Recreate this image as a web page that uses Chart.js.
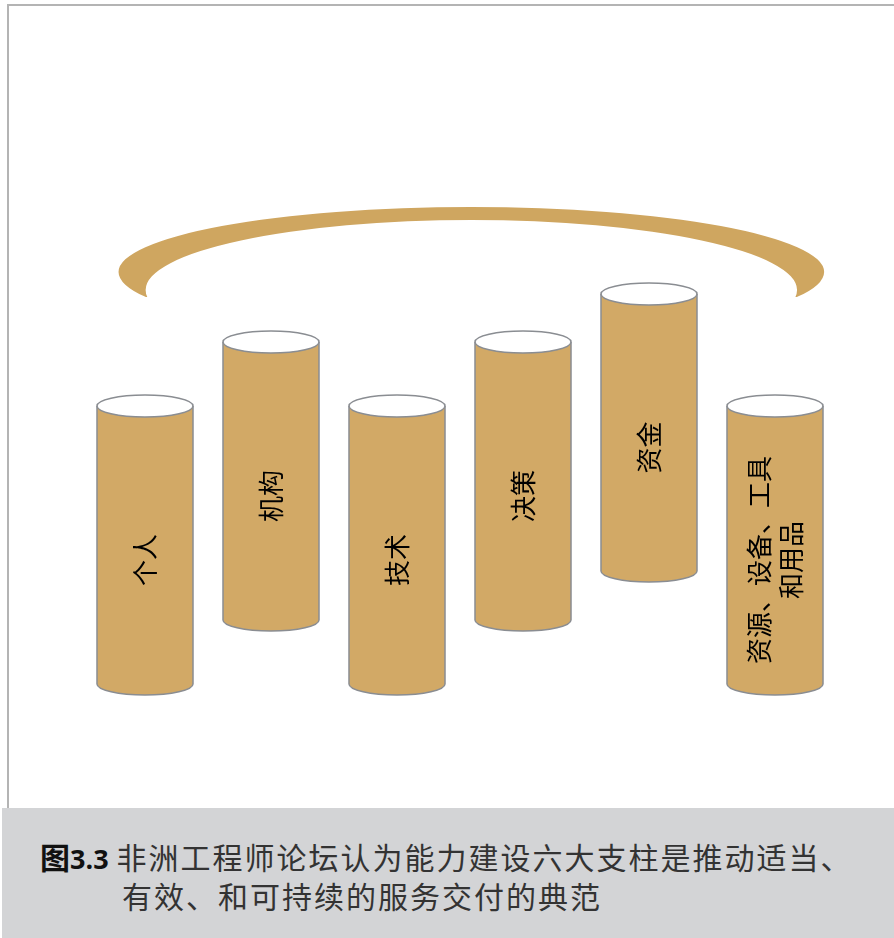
<!DOCTYPE html>
<html>
<head>
<meta charset="utf-8">
<script src="https://cdn.jsdelivr.net/npm/chart.js"></script>
<style>
    body {
        margin: 0;
        width: 894px;
        height: 938px;
        position: relative;
        overflow: hidden;
        background: #fff;
        font-family: "Noto Sans CJK SC", sans-serif;
    }
    #frame {
        position: absolute;
        left: 7px;
        top: 4px;
        right: 0;
        height: 804px;
        border-top: 2px solid #b4b4b4;
        border-left: 2px solid #b4b4b4;
    }
    #pillars {
        position: absolute;
        left: 0;
        top: 0;
    }
    #caption {
        position: absolute;
        left: 2px;
        top: 808px;
        right: 0;
        bottom: 0;
        background: #d3d4d6;
        color: #333;
    }
    .line {
        position: absolute;
        white-space: nowrap;
        font-size: 30px;
        line-height: 30px;
        letter-spacing: 2px;
    }
    .fig {
        color: #111;
        font-weight: bold;
        letter-spacing: 0;
    }
    .num {
        font-family: "Open Sans", sans-serif;
        font-size: 27px;
        font-weight: bold;
        letter-spacing: 0;
        margin-right: 8px;
    }
</style>
</head>
<body>
<div id="frame"></div>
<canvas id="pillars" width="894" height="808"></canvas>
<div id="caption">
    <div class="line" style="left:38px; top:33px;"><span class="fig">图<span class="num">3.3</span></span>非洲工程师论坛认为能力建设六大支柱是推动适当、</div>
    <div class="line" style="left:120px; top:72px;">有效、和可持续的服务交付的典范</div>
</div>
<script>
    // Six pillars: label, bottom value and top value of each cylinder
    const pillarLabels = ['个人', '机构', '技术', '决策', '资金', ['资源、设备、工具', '和用品']];
    const pillarBottoms = [124, 188, 124, 188, 237, 124];
    const pillarTops = [402, 466, 402, 466, 514, 402];

    // The arch above the pillars (x in category units, y in value units)
    const archCenter = 2.59;
    const archOuter = { rx: 2.80, cy: 536, ry: 65 };
    const archInner = { rx: 2.585, cy: 518, ry: 70 };
    const archCut = 511;

    const pillarFill = '#d2a966';
    const archFill = '#cfa660';
    const edgeColor = '#8a8d92';

    const archPlugin = {
        id: 'arch',
        beforeDatasetsDraw(chart) {
            const ctx = chart.ctx;
            const xs = chart.scales.x, ys = chart.scales.y;
            const unit = xs.getPixelForValue(1) - xs.getPixelForValue(0);
            const cx = xs.getPixelForValue(0) + archCenter * unit;
            const pxPerVal = ys.getPixelForValue(0) - ys.getPixelForValue(1);
            ctx.save();
            ctx.beginPath();
            ctx.rect(0, 0, chart.width, ys.getPixelForValue(archCut));
            ctx.clip();
            ctx.beginPath();
            ctx.ellipse(cx, ys.getPixelForValue(archOuter.cy), archOuter.rx * unit, archOuter.ry * pxPerVal, 0, 0, Math.PI * 2);
            ctx.ellipse(cx, ys.getPixelForValue(archInner.cy), archInner.rx * unit, archInner.ry * pxPerVal, 0, 0, Math.PI * 2);
            ctx.fillStyle = archFill;
            ctx.fill('evenodd');
            ctx.restore();
        }
    };

    const cylinderPlugin = {
        id: 'cylinders',
        afterDatasetsDraw(chart) {
            const ctx = chart.ctx;
            const meta = chart.getDatasetMeta(0);
            meta.data.forEach((bar, i) => {
                const { x, y, base, width } = bar.getProps(['x', 'y', 'base', 'width'], true);
                const rx = width / 2, ry = 11;
                ctx.save();
                ctx.lineWidth = 1.5;
                ctx.strokeStyle = edgeColor;

                // bottom rim
                ctx.beginPath();
                ctx.ellipse(x, base, rx, ry, 0, 0, Math.PI);
                ctx.fillStyle = pillarFill;
                ctx.fill();
                ctx.stroke();

                // sides
                ctx.beginPath();
                ctx.moveTo(x - rx, y);
                ctx.lineTo(x - rx, base);
                ctx.moveTo(x + rx, y);
                ctx.lineTo(x + rx, base);
                ctx.stroke();

                // open top
                ctx.beginPath();
                ctx.ellipse(x, y, rx, ry, 0, 0, Math.PI * 2);
                ctx.fillStyle = '#fff';
                ctx.fill();
                ctx.stroke();

                // vertical label
                const label = chart.data.labels[i];
                const lines = Array.isArray(label) ? label : [label];
                ctx.translate(x, (y + base) / 2 + 15);
                ctx.rotate(-Math.PI / 2);
                ctx.fillStyle = '#000';
                ctx.font = '26px "Noto Sans CJK SC", sans-serif';
                ctx.textAlign = 'center';
                ctx.textBaseline = 'middle';
                lines.forEach((line, j) => {
                    ctx.fillText(line, 0, (j - (lines.length - 1) / 2) * 32);
                });
                ctx.restore();
            });
        }
    };

    new Chart(document.getElementById('pillars'), {
        type: 'bar',
        data: {
            labels: pillarLabels,
            datasets: [{
                data: pillarBottoms.map((b, i) => [b, pillarTops[i]]),
                backgroundColor: pillarFill,
                borderWidth: 0,
                barPercentage: 0.762,
                categoryPercentage: 1
            }]
        },
        options: {
            responsive: false,
            animation: false,
            events: [],
            layout: {
                padding: { left: 82, right: 56, top: 8, bottom: 0 }
            },
            plugins: {
                legend: { display: false },
                tooltip: { enabled: false }
            },
            scales: {
                x: { display: false },
                y: { display: false, min: 0, max: 800 }
            }
        },
        plugins: [archPlugin, cylinderPlugin]
    });
</script>
</body>
</html>
